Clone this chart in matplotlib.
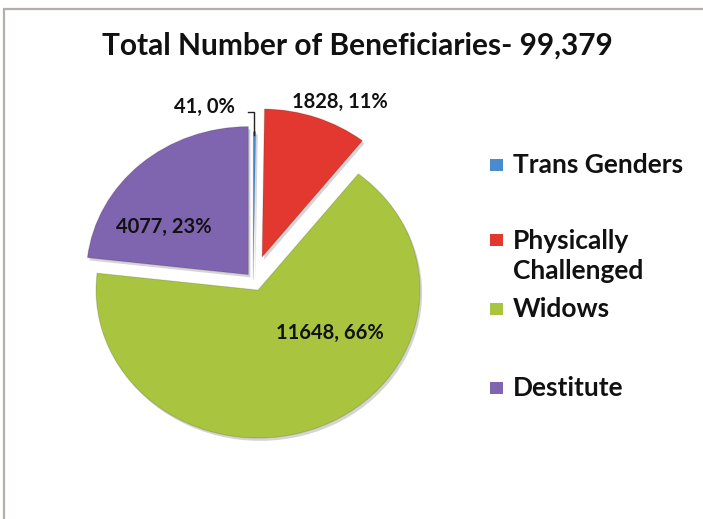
import numpy as np
import matplotlib
matplotlib.use("Agg")
import matplotlib.pyplot as plt
from matplotlib.patches import Rectangle
from matplotlib import patheffects as pe

plt.rcParams['font.family'] = ['Lato', 'DejaVu Sans']
plt.rcParams['font.weight'] = 'bold'

# beneficiaries by category
categories = ['Trans Genders', 'Physically\nChallenged', 'Widows', 'Destitute']
counts = [41, 1828, 11648, 4077]
percents = [0, 11, 66, 23]
total_label = '99,379'

colors = ['#4A8BD0', '#E2382F', '#A9C43E', '#7F64AF']
explode = [0.0, 0.163, 0.076, 0.046]
# label centres in pie units
label_xy = [(-0.30, 1.165), (0.535, 1.20), (0.475, -0.36), (-0.55, 0.356)]
legend_y = [165, 256, 309, 388]

W, H = 703, 519
fig = plt.figure(figsize=(W / 100, H / 100), dpi=100)
fig.patch.set_facecolor('white')

# chart frame
fig.patches.append(Rectangle((4 / W, -0.02), 1.0, (H - 9) / H + 0.02,
                             transform=fig.transFigure, facecolor='none',
                             edgecolor='#b3aeac', linewidth=1.6, zorder=-5))

fig.text(357 / W, 1 - 46 / H, 'Total Number of Beneficiaries- ' + total_label,
         ha='center', va='center', fontsize=21.5, fontweight='bold', color='#111111')

# pie axes: 162 px per unit across, 148 px per unit down
cx, cy, sx, sy = 253.3, H - 279.7, 162, 148
ax = fig.add_axes([(cx - 1.5 * sx) / W, (cy - 1.5 * sy) / H, 3 * sx / W, 3 * sy / H])
wedges, _ = ax.pie(counts, explode=explode, colors=colors, startangle=90,
                   counterclock=False,
                   wedgeprops=dict(linewidth=0.8, edgecolor='#00000022'))
ax.set_aspect('auto')
ax.set_xlim(-1.5, 1.5)
ax.set_ylim(-1.5, 1.5)
ax.axis('off')

for w in wedges:
    w.set_path_effects([pe.SimplePatchShadow(offset=(1.5, -2), shadow_rgbFace='#888888', alpha=0.35),
                        pe.Normal()])

for (x, y), n, p in zip(label_xy, counts, percents):
    ax.text(x, y, f'{n}, {p}%', ha='center', va='center', fontsize=14.5,
            fontweight='bold', color='#111111')

# leader from the thin slice up to its label
w0 = wedges[0]
th = np.deg2rad((w0.theta1 + w0.theta2) / 2)
tip = (np.cos(th) * (1 + explode[0]), np.sin(th) * (1 + explode[0]))
ly = label_xy[0][1] - 0.035
ax.plot([tip[0], tip[0], tip[0] - 0.04], [tip[1] - 0.02, ly, ly],
        color='#222222', linewidth=1.0)

# legend
for lab, col, yy in zip(categories, colors, legend_y):
    lines = lab.split('\n')
    first_y = yy - (len(lines) - 1) * 16
    fig.patches.append(Rectangle((490 / W, 1 - (first_y + 6) / H), 13 / W, 12 / H,
                                 transform=fig.transFigure, facecolor=col,
                                 edgecolor='none'))
    fig.text(513 / W, 1 - yy / H, lab, ha='left', va='center', fontsize=19,
             fontweight='bold', color='#111111', linespacing=1.3)

fig.savefig('out.png', dpi=100, facecolor='white')
